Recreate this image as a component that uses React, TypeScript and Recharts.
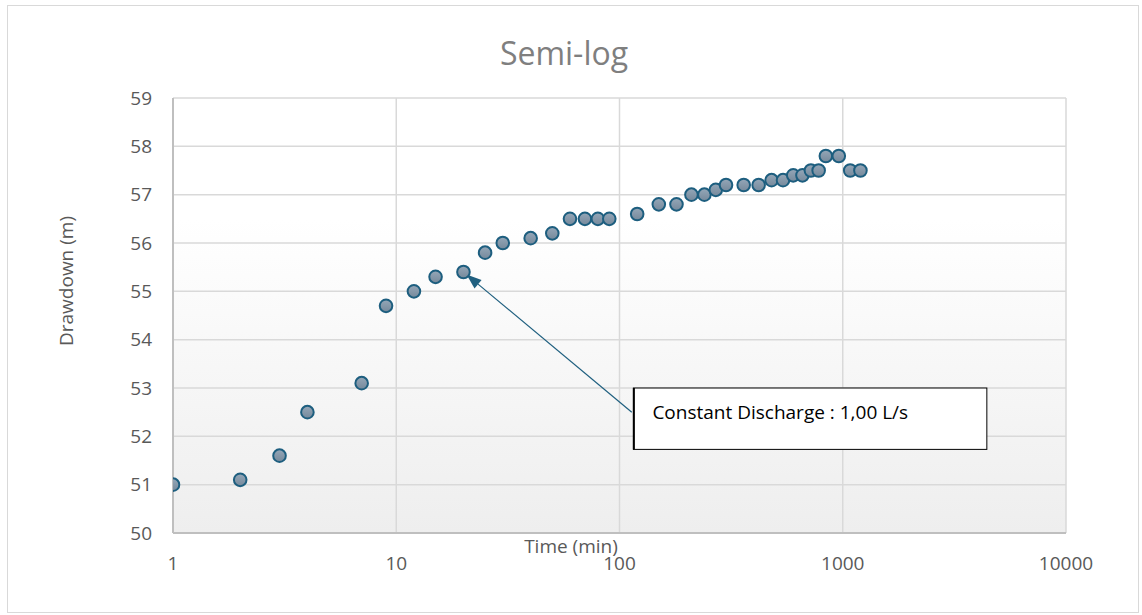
import { CartesianGrid, ReferenceArea, ReferenceLine, Scatter, ScatterChart, XAxis, YAxis } from 'recharts'

// pumping test readings
const times = [
  1, 2, 3, 4, 7, 9, 12, 15, 20, 25, 30, 40, 50, 60, 70, 80, 90, 120, 150, 180, 210, 240, 270, 300,
  360, 420, 480, 540, 600, 660, 720, 780, 840, 960, 1080, 1200
]
const drawdown = [
  51.0, 51.1, 51.6, 52.5, 53.1, 54.7, 55.0, 55.3, 55.4, 55.8, 56.0, 56.1, 56.2, 56.5, 56.5, 56.5,
  56.5, 56.6, 56.8, 56.8, 57.0, 57.0, 57.1, 57.2, 57.2, 57.2, 57.3, 57.3, 57.4, 57.4, 57.5, 57.5,
  57.8, 57.8, 57.5, 57.5
]
const xTicks = [1, 10, 100, 1000, 10000]
const yTicks = [50, 51, 52, 53, 54, 55, 56, 57, 58, 59]

// callout box and the point it points at
const noteText = 'Constant Discharge : 1,00 L/s'
const noteBox = { x1: 115.4, x2: 4420, y1: 51.73, y2: 53.0 }
const noteFrom = { x: 113.5, y: 52.5 }
const noteTo = { x: 20, y: 55.4 }

const data = times.map((t, i) => ({ t, d: drawdown[i] }))

const FONT = '"Open Sans", "Noto Sans", sans-serif'
const ARROW = '#1f5f7f'

function Marker(props: any) {
  const { cx, cy } = props
  if (cx == null || cy == null) return null
  return <circle cx={cx} cy={cy} r={6.3} fill="url(#markerFill)" stroke="#1d5e7f" strokeWidth={2} />
}

function XTick({ x, y, payload }: any) {
  return (
    <text x={x} y={y} dy="0.71em" textAnchor="middle" fill="#595959" fontSize={19} fontFamily={FONT}>
      {payload.value}
    </text>
  )
}

function YTick({ x, y, payload }: any) {
  return (
    <text x={x} y={y} dy="0.355em" textAnchor="end" fill="#595959" fontSize={19} fontFamily={FONT}>
      {payload.value}
    </text>
  )
}

function Arrow(props: any) {
  const { x1, y1, x2, y2 } = props
  if ([x1, y1, x2, y2].some((v) => v == null || Number.isNaN(v))) return null
  const ang = Math.atan2(y2 - y1, x2 - x1)
  // stop at the edge of the marker
  const tx = x2 - Math.cos(ang) * 4
  const ty = y2 - Math.sin(ang) * 4
  const len = 15
  const half = 5.5
  const bx = tx - Math.cos(ang) * len
  const by = ty - Math.sin(ang) * len
  const nx = -Math.sin(ang) * half
  const ny = Math.cos(ang) * half
  return (
    <g>
      <line x1={x1} y1={y1} x2={bx} y2={by} stroke={ARROW} strokeWidth={1.2} />
      <polygon points={`${tx},${ty} ${bx + nx},${by + ny} ${bx - nx},${by - ny}`} fill={ARROW} />
    </g>
  )
}

function NoteBox(props: any) {
  const { x, y, width, height } = props
  return (
    <g>
      <rect x={x} y={y} width={width} height={height} fill="#ffffff" stroke="#000000" strokeWidth={1} />
      <line x1={x + 0.5} y1={y} x2={x + 0.5} y2={y + height} stroke="#000000" strokeWidth={2} />
      <text x={x + 19} y={y + 31} fill="#000000" fontSize={19} fontFamily={FONT}>
        {noteText}
      </text>
    </g>
  )
}

export default function App() {
  return (
    <div style={{ position: 'absolute', left: 0, top: 0, width: 1142, height: 615, background: '#ffffff' }}>
      <div
        style={{
          position: 'absolute',
          left: 7,
          top: 5,
          width: 1132,
          height: 608,
          border: '1px solid #d9d9d9',
          boxSizing: 'border-box'
        }}
      />
      <svg width={0} height={0} style={{ position: 'absolute' }}>
        <defs>
          <linearGradient id="plotBg" x1="0" y1="0" x2="0" y2="1">
            <stop offset="0%" stopColor="#ffffff" />
            <stop offset="28%" stopColor="#ffffff" />
            <stop offset="100%" stopColor="#eeeeee" />
          </linearGradient>
          <linearGradient id="markerFill" x1="0" y1="0" x2="0" y2="1">
            <stop offset="0%" stopColor="#95a7b8" />
            <stop offset="100%" stopColor="#76899b" />
          </linearGradient>
        </defs>
      </svg>
      <div style={{ position: 'absolute', left: 0, top: 0 }}>
        <ScatterChart width={1142} height={615} margin={{ top: 98, right: 76, bottom: 42, left: 113 }}>
          <CartesianGrid stroke="#d9d9d9" strokeWidth={1.5} fill="url(#plotBg)" />
          <XAxis
            type="number"
            dataKey="t"
            scale="log"
            domain={[1, 10000]}
            ticks={xTicks}
            allowDataOverflow
            height={40}
            tickLine={false}
            tickSize={0}
            tickMargin={24}
            tick={<XTick />}
            axisLine={{ stroke: '#bfbfbf', strokeWidth: 2 }}
          />
          <YAxis
            type="number"
            dataKey="d"
            domain={[50, 59]}
            ticks={yTicks}
            width={60}
            tickLine={false}
            tickSize={0}
            tickMargin={21}
            tick={<YTick />}
            axisLine={{ stroke: '#bfbfbf', strokeWidth: 2 }}
          />
          <Scatter data={data} shape={<Marker />} isAnimationActive={false} />
          <ReferenceLine segment={[noteFrom, noteTo]} shape={Arrow} ifOverflow="visible" />
          <ReferenceArea
            x1={noteBox.x1}
            x2={noteBox.x2}
            y1={noteBox.y1}
            y2={noteBox.y2}
            shape={NoteBox}
            ifOverflow="visible"
          />
        </ScatterChart>
      </div>
      <svg width={1142} height={615} style={{ position: 'absolute', left: 0, top: 0, pointerEvents: 'none' }}>
        <text x={564} y={65} textAnchor="middle" fill="#7f7f7f" fontSize={32} fontFamily={FONT}>
          Semi-log
        </text>
        <text x={571} y={553} textAnchor="middle" fill="#595959" fontSize={19} fontFamily={FONT}>
          Time (min)
        </text>
        <text
          x={73}
          y={281}
          textAnchor="middle"
          fill="#595959"
          fontSize={19}
          fontFamily={FONT}
          transform="rotate(-90 73 281)"
        >
          Drawdown (m)
        </text>
      </svg>
    </div>
  )
}
